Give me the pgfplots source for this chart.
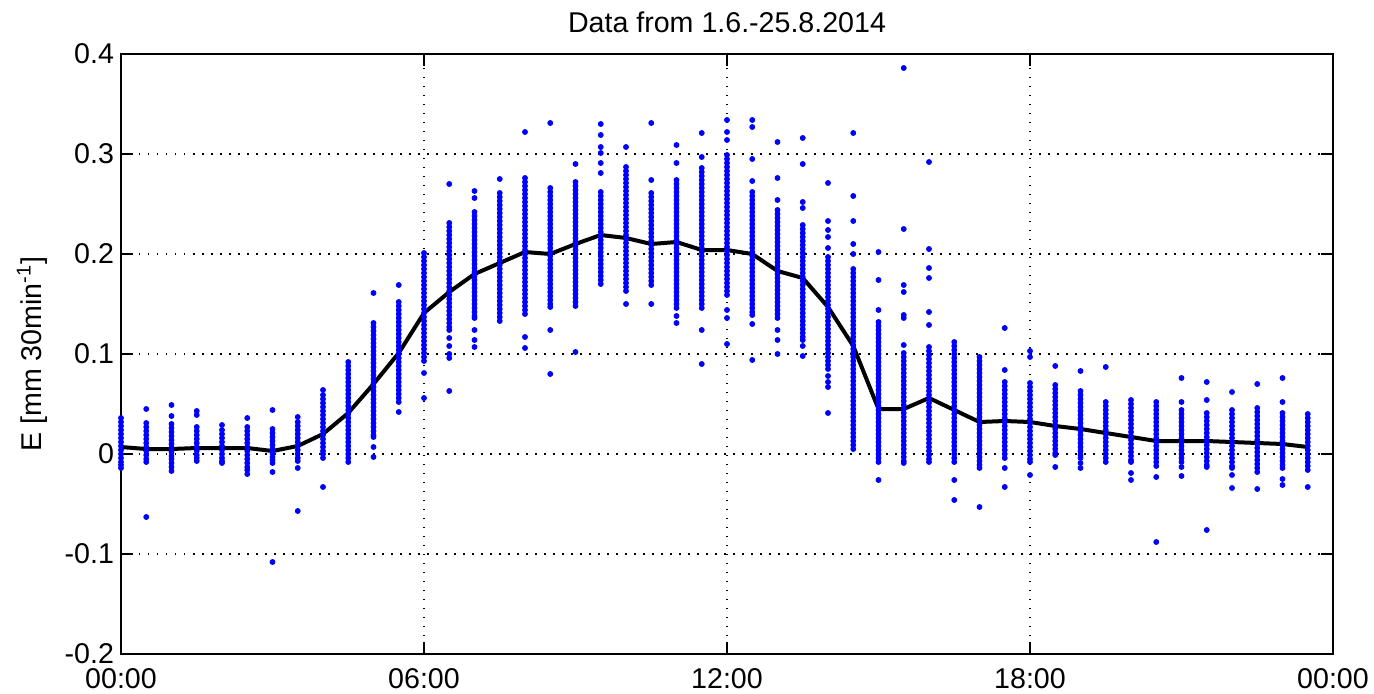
\documentclass[border=0pt]{standalone}
\usepackage{fontspec}
\setmainfont{Liberation Sans}
\usepackage{pgfplots}
\pgfplotsset{compat=1.18}
\begin{document}
\begin{tikzpicture}
\path[use as bounding box] (-60.5pt,-19.5pt) rectangle (626.5pt,327pt);
\begin{axis}[at={(0,0)}, anchor=south west, scale only axis, width=606pt, height=300pt,
  xmin=0, xmax=24, ymin=-0.2, ymax=0.4,
  xtick={0,6,12,18,24}, xticklabels={00:00,06:00,12:00,18:00,00:00},
  ytick={-0.2,-0.1,0,0.1,0.2,0.3,0.4}, yticklabels={-0.2,-0.1,0,0.1,0.2,0.3,0.4},
  tick align=inside, tick pos=both, major tick length=6pt,
  grid=major, major grid style={black, line width=0.75pt, dash pattern=on 0.75pt off 3.75pt},
  axis line style={line width=0.8pt}, every tick/.style={black, line width=0.8pt},
  tick label style={font=\fontsize{14.3pt}{17pt}\selectfont},
  xticklabel style={anchor=center, yshift=-12.5pt},
  title={Data from 1.6.-25.8.2014},
  every axis title shift=0pt,
  title style={font=\fontsize{14.3pt}{17pt}\selectfont, at={(axis description cs:0.5,1)}, anchor=center, yshift=16pt},
  ylabel={E [mm 30min\textsuperscript{-1}]},
  ylabel style={font=\fontsize{14.3pt}{17pt}\selectfont, at={(axis description cs:-0.0734,0.5)}, anchor=center},
  clip=false]
\addplot[only marks, mark=*, mark size=1.25pt, color=blue, mark options={draw=none, fill=blue}] coordinates {
(0,.036)(0,.032)(0,.028)(0,.024)(0,.020)(0,.016)(0,.012)(0,.008)(0,.004)(0,.000)(0,-.004)(0,-.008)(0,-.011)(0,-.014)
(0.5,.045)(0.5,.031)(0.5,.027)(0.5,.023)(0.5,.019)(0.5,.015)(0.5,.011)(0.5,.007)(0.5,.003)(0.5,-.001)(0.5,-.005)(0.5,-.008)(0.5,-.063)
(1,.049)(1,.038)(1,.030)(1,.026)(1,.022)(1,.018)(1,.014)(1,.010)(1,.006)(1,.002)(1,-.002)(1,-.005)(1,-.009)(1,-.013)(1,-.017)
(1.5,.043)(1.5,.039)(1.5,.027)(1.5,.023)(1.5,.019)(1.5,.015)(1.5,.011)(1.5,.007)(1.5,.003)(1.5,-.001)(1.5,-.004)(1.5,-.007)
(2,.029)(2,.024)(2,.020)(2,.016)(2,.012)(2,.008)(2,.004)(2,.000)(2,-.004)(2,-.007)(2,-.009)
(2.5,.036)(2.5,.027)(2.5,.023)(2.5,.019)(2.5,.015)(2.5,.011)(2.5,.007)(2.5,.003)(2.5,-.001)(2.5,-.005)(2.5,-.009)(2.5,-.013)(2.5,-.016)(2.5,-.020)
(3,.044)(3,.025)(3,.021)(3,.017)(3,.013)(3,.009)(3,.005)(3,.001)(3,-.003)(3,-.006)(3,-.009)(3,-.018)(3,-.108)
(3.5,.037)(3.5,.032)(3.5,.028)(3.5,.024)(3.5,.020)(3.5,.016)(3.5,.012)(3.5,.008)(3.5,.004)(3.5,.000)(3.5,-.004)(3.5,-.007)(3.5,-.014)(3.5,-.057)
(4,.064)(4,.059)(4,.055)(4,.051)(4,.047)(4,.043)(4,.039)(4,.035)(4,.031)(4,.027)(4,.023)(4,.019)(4,.015)(4,.011)(4,.007)(4,.003)(4,.000)(4,-.004)(4,-.033)
(4.5,.092)(4.5,.088)(4.5,.084)(4.5,.080)(4.5,.076)(4.5,.072)(4.5,.068)(4.5,.064)(4.5,.060)(4.5,.056)(4.5,.052)(4.5,.048)(4.5,.044)(4.5,.040)(4.5,.036)(4.5,.032)(4.5,.028)(4.5,.024)(4.5,.020)(4.5,.016)(4.5,.012)(4.5,.008)(4.5,.004)(4.5,.000)(4.5,-.004)(4.5,-.008)
(5,.161)(5,.131)(5,.127)(5,.123)(5,.119)(5,.115)(5,.111)(5,.107)(5,.103)(5,.099)(5,.095)(5,.091)(5,.087)(5,.083)(5,.079)(5,.075)(5,.071)(5,.067)(5,.063)(5,.059)(5,.055)(5,.051)(5,.047)(5,.043)(5,.039)(5,.035)(5,.031)(5,.027)(5,.023)(5,.019)(5,.017)(5,.007)(5,-.003)
(5.5,.169)(5.5,.152)(5.5,.148)(5.5,.144)(5.5,.140)(5.5,.136)(5.5,.132)(5.5,.128)(5.5,.124)(5.5,.120)(5.5,.116)(5.5,.112)(5.5,.108)(5.5,.104)(5.5,.100)(5.5,.096)(5.5,.092)(5.5,.088)(5.5,.084)(5.5,.080)(5.5,.076)(5.5,.072)(5.5,.068)(5.5,.064)(5.5,.060)(5.5,.056)(5.5,.052)(5.5,.042)
(6,.201)(6,.197)(6,.193)(6,.189)(6,.185)(6,.181)(6,.177)(6,.173)(6,.169)(6,.165)(6,.161)(6,.157)(6,.153)(6,.149)(6,.145)(6,.141)(6,.137)(6,.133)(6,.129)(6,.125)(6,.121)(6,.117)(6,.113)(6,.109)(6,.105)(6,.101)(6,.097)(6,.093)(6,.081)(6,.056)
(6.5,.270)(6.5,.231)(6.5,.227)(6.5,.223)(6.5,.219)(6.5,.215)(6.5,.211)(6.5,.207)(6.5,.203)(6.5,.199)(6.5,.195)(6.5,.191)(6.5,.187)(6.5,.183)(6.5,.179)(6.5,.175)(6.5,.171)(6.5,.167)(6.5,.163)(6.5,.159)(6.5,.155)(6.5,.151)(6.5,.147)(6.5,.143)(6.5,.139)(6.5,.135)(6.5,.131)(6.5,.127)(6.5,.124)(6.5,.116)(6.5,.108)(6.5,.100)(6.5,.096)(6.5,.063)
(7,.263)(7,.256)(7,.242)(7,.238)(7,.234)(7,.230)(7,.226)(7,.222)(7,.218)(7,.214)(7,.210)(7,.206)(7,.202)(7,.198)(7,.194)(7,.190)(7,.186)(7,.182)(7,.178)(7,.174)(7,.170)(7,.166)(7,.162)(7,.158)(7,.154)(7,.150)(7,.146)(7,.142)(7,.138)(7,.136)(7,.124)(7,.114)(7,.107)
(7.5,.275)(7.5,.261)(7.5,.257)(7.5,.253)(7.5,.249)(7.5,.245)(7.5,.241)(7.5,.237)(7.5,.233)(7.5,.229)(7.5,.225)(7.5,.221)(7.5,.217)(7.5,.213)(7.5,.209)(7.5,.205)(7.5,.201)(7.5,.197)(7.5,.193)(7.5,.189)(7.5,.185)(7.5,.181)(7.5,.177)(7.5,.173)(7.5,.169)(7.5,.165)(7.5,.161)(7.5,.157)(7.5,.153)(7.5,.149)(7.5,.145)(7.5,.141)(7.5,.137)(7.5,.133)
(8,.322)(8,.276)(8,.272)(8,.268)(8,.264)(8,.260)(8,.256)(8,.252)(8,.248)(8,.244)(8,.240)(8,.236)(8,.232)(8,.228)(8,.224)(8,.220)(8,.216)(8,.212)(8,.208)(8,.204)(8,.200)(8,.196)(8,.192)(8,.188)(8,.184)(8,.180)(8,.176)(8,.172)(8,.168)(8,.164)(8,.160)(8,.156)(8,.152)(8,.148)(8,.144)(8,.140)(8,.117)(8,.106)
(8.5,.331)(8.5,.266)(8.5,.262)(8.5,.258)(8.5,.254)(8.5,.250)(8.5,.246)(8.5,.242)(8.5,.238)(8.5,.234)(8.5,.230)(8.5,.226)(8.5,.222)(8.5,.218)(8.5,.214)(8.5,.210)(8.5,.206)(8.5,.202)(8.5,.198)(8.5,.194)(8.5,.190)(8.5,.186)(8.5,.182)(8.5,.178)(8.5,.174)(8.5,.170)(8.5,.166)(8.5,.162)(8.5,.158)(8.5,.154)(8.5,.150)(8.5,.147)(8.5,.124)(8.5,.080)
(9,.290)(9,.272)(9,.268)(9,.264)(9,.260)(9,.256)(9,.252)(9,.248)(9,.244)(9,.240)(9,.236)(9,.232)(9,.228)(9,.224)(9,.220)(9,.216)(9,.212)(9,.208)(9,.204)(9,.200)(9,.196)(9,.192)(9,.188)(9,.184)(9,.180)(9,.176)(9,.172)(9,.168)(9,.164)(9,.160)(9,.156)(9,.152)(9,.148)(9,.102)
(9.5,.330)(9.5,.319)(9.5,.307)(9.5,.301)(9.5,.291)(9.5,.281)(9.5,.262)(9.5,.258)(9.5,.254)(9.5,.250)(9.5,.246)(9.5,.242)(9.5,.238)(9.5,.234)(9.5,.230)(9.5,.226)(9.5,.222)(9.5,.218)(9.5,.214)(9.5,.210)(9.5,.206)(9.5,.202)(9.5,.198)(9.5,.194)(9.5,.190)(9.5,.186)(9.5,.182)(9.5,.178)(9.5,.174)(9.5,.170)
(10,.307)(10,.287)(10,.283)(10,.279)(10,.275)(10,.271)(10,.267)(10,.263)(10,.259)(10,.255)(10,.251)(10,.247)(10,.243)(10,.239)(10,.235)(10,.231)(10,.227)(10,.223)(10,.219)(10,.215)(10,.211)(10,.207)(10,.203)(10,.199)(10,.195)(10,.191)(10,.187)(10,.183)(10,.179)(10,.175)(10,.171)(10,.167)(10,.163)(10,.150)
(10.5,.331)(10.5,.274)(10.5,.261)(10.5,.257)(10.5,.253)(10.5,.249)(10.5,.245)(10.5,.241)(10.5,.237)(10.5,.233)(10.5,.229)(10.5,.225)(10.5,.221)(10.5,.217)(10.5,.213)(10.5,.209)(10.5,.205)(10.5,.201)(10.5,.197)(10.5,.193)(10.5,.189)(10.5,.185)(10.5,.181)(10.5,.177)(10.5,.173)(10.5,.169)(10.5,.150)
(11,.309)(11,.291)(11,.274)(11,.270)(11,.266)(11,.262)(11,.258)(11,.254)(11,.250)(11,.246)(11,.242)(11,.238)(11,.234)(11,.230)(11,.226)(11,.222)(11,.218)(11,.214)(11,.210)(11,.206)(11,.202)(11,.198)(11,.194)(11,.190)(11,.186)(11,.182)(11,.178)(11,.174)(11,.170)(11,.166)(11,.162)(11,.158)(11,.154)(11,.150)(11,.146)(11,.138)(11,.131)
(11.5,.321)(11.5,.297)(11.5,.286)(11.5,.282)(11.5,.278)(11.5,.274)(11.5,.270)(11.5,.266)(11.5,.262)(11.5,.258)(11.5,.254)(11.5,.250)(11.5,.246)(11.5,.242)(11.5,.238)(11.5,.234)(11.5,.230)(11.5,.226)(11.5,.222)(11.5,.218)(11.5,.214)(11.5,.210)(11.5,.206)(11.5,.202)(11.5,.198)(11.5,.194)(11.5,.190)(11.5,.186)(11.5,.182)(11.5,.178)(11.5,.174)(11.5,.170)(11.5,.166)(11.5,.162)(11.5,.158)(11.5,.154)(11.5,.150)(11.5,.146)(11.5,.124)(11.5,.090)
(12,.334)(12,.322)(12,.314)(12,.299)(12,.295)(12,.291)(12,.287)(12,.283)(12,.279)(12,.275)(12,.271)(12,.267)(12,.263)(12,.259)(12,.255)(12,.251)(12,.247)(12,.243)(12,.239)(12,.235)(12,.231)(12,.227)(12,.223)(12,.219)(12,.215)(12,.211)(12,.207)(12,.203)(12,.199)(12,.195)(12,.191)(12,.187)(12,.183)(12,.179)(12,.175)(12,.171)(12,.167)(12,.163)(12,.159)(12,.144)(12,.136)(12,.110)
(12.5,.334)(12.5,.327)(12.5,.295)(12.5,.273)(12.5,.262)(12.5,.258)(12.5,.254)(12.5,.250)(12.5,.246)(12.5,.242)(12.5,.238)(12.5,.234)(12.5,.230)(12.5,.226)(12.5,.222)(12.5,.218)(12.5,.214)(12.5,.210)(12.5,.206)(12.5,.202)(12.5,.198)(12.5,.194)(12.5,.190)(12.5,.186)(12.5,.182)(12.5,.178)(12.5,.174)(12.5,.170)(12.5,.166)(12.5,.162)(12.5,.158)(12.5,.154)(12.5,.150)(12.5,.146)(12.5,.142)(12.5,.139)(12.5,.130)(12.5,.094)
(13,.312)(13,.276)(13,.254)(13,.244)(13,.240)(13,.236)(13,.232)(13,.228)(13,.224)(13,.220)(13,.216)(13,.212)(13,.208)(13,.204)(13,.200)(13,.196)(13,.192)(13,.188)(13,.184)(13,.180)(13,.176)(13,.172)(13,.168)(13,.164)(13,.160)(13,.156)(13,.152)(13,.148)(13,.144)(13,.140)(13,.136)(13,.124)(13,.114)(13,.100)
(13.5,.316)(13.5,.290)(13.5,.252)(13.5,.246)(13.5,.229)(13.5,.225)(13.5,.221)(13.5,.217)(13.5,.213)(13.5,.209)(13.5,.205)(13.5,.201)(13.5,.197)(13.5,.193)(13.5,.189)(13.5,.185)(13.5,.181)(13.5,.177)(13.5,.173)(13.5,.169)(13.5,.165)(13.5,.161)(13.5,.157)(13.5,.153)(13.5,.149)(13.5,.145)(13.5,.141)(13.5,.137)(13.5,.133)(13.5,.129)(13.5,.125)(13.5,.121)(13.5,.117)(13.5,.114)(13.5,.108)(13.5,.098)
(14,.271)(14,.233)(14,.224)(14,.217)(14,.206)(14,.197)(14,.193)(14,.189)(14,.185)(14,.181)(14,.177)(14,.173)(14,.169)(14,.165)(14,.161)(14,.157)(14,.153)(14,.149)(14,.145)(14,.141)(14,.137)(14,.133)(14,.129)(14,.125)(14,.121)(14,.117)(14,.113)(14,.109)(14,.105)(14,.101)(14,.097)(14,.093)(14,.089)(14,.085)(14,.078)(14,.072)(14,.067)(14,.041)
(14.5,.321)(14.5,.258)(14.5,.233)(14.5,.210)(14.5,.200)(14.5,.185)(14.5,.181)(14.5,.177)(14.5,.173)(14.5,.169)(14.5,.165)(14.5,.161)(14.5,.157)(14.5,.153)(14.5,.149)(14.5,.145)(14.5,.141)(14.5,.137)(14.5,.133)(14.5,.129)(14.5,.125)(14.5,.121)(14.5,.117)(14.5,.113)(14.5,.109)(14.5,.105)(14.5,.101)(14.5,.097)(14.5,.093)(14.5,.089)(14.5,.085)(14.5,.081)(14.5,.077)(14.5,.073)(14.5,.069)(14.5,.065)(14.5,.061)(14.5,.057)(14.5,.053)(14.5,.049)(14.5,.045)(14.5,.041)(14.5,.037)(14.5,.033)(14.5,.029)(14.5,.025)(14.5,.021)(14.5,.017)(14.5,.013)(14.5,.009)(14.5,.005)
(15,.202)(15,.174)(15,.144)(15,.132)(15,.128)(15,.124)(15,.120)(15,.116)(15,.112)(15,.108)(15,.104)(15,.100)(15,.096)(15,.092)(15,.088)(15,.084)(15,.080)(15,.076)(15,.072)(15,.068)(15,.064)(15,.060)(15,.056)(15,.052)(15,.048)(15,.044)(15,.040)(15,.036)(15,.032)(15,.028)(15,.024)(15,.020)(15,.016)(15,.012)(15,.008)(15,.004)(15,.000)(15,-.004)(15,-.008)(15,-.026)
(15.5,.386)(15.5,.225)(15.5,.169)(15.5,.162)(15.5,.139)(15.5,.136)(15.5,.109)(15.5,.101)(15.5,.097)(15.5,.093)(15.5,.089)(15.5,.085)(15.5,.081)(15.5,.077)(15.5,.073)(15.5,.069)(15.5,.065)(15.5,.061)(15.5,.057)(15.5,.053)(15.5,.049)(15.5,.045)(15.5,.041)(15.5,.037)(15.5,.033)(15.5,.029)(15.5,.025)(15.5,.021)(15.5,.017)(15.5,.013)(15.5,.009)(15.5,.005)(15.5,.001)(15.5,-.003)(15.5,-.007)(15.5,-.009)
(16,.292)(16,.205)(16,.186)(16,.176)(16,.142)(16,.129)(16,.107)(16,.103)(16,.099)(16,.095)(16,.091)(16,.087)(16,.083)(16,.079)(16,.075)(16,.071)(16,.067)(16,.063)(16,.059)(16,.055)(16,.051)(16,.047)(16,.043)(16,.039)(16,.035)(16,.031)(16,.027)(16,.023)(16,.019)(16,.015)(16,.011)(16,.007)(16,.003)(16,-.001)(16,-.005)(16,-.008)
(16.5,.112)(16.5,.108)(16.5,.104)(16.5,.100)(16.5,.096)(16.5,.092)(16.5,.088)(16.5,.084)(16.5,.080)(16.5,.076)(16.5,.072)(16.5,.068)(16.5,.064)(16.5,.060)(16.5,.056)(16.5,.052)(16.5,.048)(16.5,.044)(16.5,.040)(16.5,.036)(16.5,.032)(16.5,.028)(16.5,.024)(16.5,.020)(16.5,.016)(16.5,.012)(16.5,.008)(16.5,.004)(16.5,.000)(16.5,-.004)(16.5,-.008)(16.5,-.026)(16.5,-.046)
(17,.097)(17,.093)(17,.089)(17,.085)(17,.081)(17,.077)(17,.073)(17,.069)(17,.065)(17,.061)(17,.057)(17,.053)(17,.049)(17,.045)(17,.041)(17,.037)(17,.033)(17,.029)(17,.025)(17,.021)(17,.017)(17,.013)(17,.009)(17,.005)(17,.001)(17,-.003)(17,-.007)(17,-.011)(17,-.014)(17,-.053)
(17.5,.126)(17.5,.084)(17.5,.072)(17.5,.068)(17.5,.064)(17.5,.060)(17.5,.056)(17.5,.052)(17.5,.048)(17.5,.044)(17.5,.040)(17.5,.036)(17.5,.032)(17.5,.028)(17.5,.024)(17.5,.020)(17.5,.016)(17.5,.012)(17.5,.008)(17.5,.004)(17.5,.000)(17.5,-.004)(17.5,-.014)(17.5,-.033)
(18,.103)(18,.097)(18,.071)(18,.067)(18,.063)(18,.059)(18,.055)(18,.051)(18,.047)(18,.043)(18,.039)(18,.035)(18,.031)(18,.027)(18,.023)(18,.019)(18,.015)(18,.011)(18,.007)(18,.003)(18,-.001)(18,-.005)(18,-.008)(18,-.021)
(18.5,.088)(18.5,.069)(18.5,.065)(18.5,.061)(18.5,.057)(18.5,.053)(18.5,.049)(18.5,.045)(18.5,.041)(18.5,.037)(18.5,.033)(18.5,.029)(18.5,.025)(18.5,.021)(18.5,.017)(18.5,.013)(18.5,.009)(18.5,.005)(18.5,.001)(18.5,-.001)(18.5,-.013)
(19,.083)(19,.063)(19,.059)(19,.055)(19,.051)(19,.047)(19,.043)(19,.039)(19,.035)(19,.031)(19,.027)(19,.023)(19,.019)(19,.015)(19,.011)(19,.007)(19,.003)(19,-.001)(19,-.004)(19,-.009)(19,-.014)
(19.5,.087)(19.5,.052)(19.5,.048)(19.5,.044)(19.5,.040)(19.5,.036)(19.5,.032)(19.5,.028)(19.5,.024)(19.5,.020)(19.5,.016)(19.5,.012)(19.5,.008)(19.5,.004)(19.5,.000)(19.5,-.004)(19.5,-.008)
(20,.054)(20,.050)(20,.046)(20,.042)(20,.038)(20,.034)(20,.030)(20,.026)(20,.022)(20,.018)(20,.014)(20,.010)(20,.006)(20,.002)(20,-.002)(20,-.006)(20,-.008)(20,-.019)(20,-.026)
(20.5,.052)(20.5,.048)(20.5,.044)(20.5,.040)(20.5,.036)(20.5,.032)(20.5,.028)(20.5,.024)(20.5,.020)(20.5,.016)(20.5,.012)(20.5,.008)(20.5,.004)(20.5,.000)(20.5,-.004)(20.5,-.008)(20.5,-.012)(20.5,-.023)(20.5,-.088)
(21,.076)(21,.052)(21,.044)(21,.040)(21,.036)(21,.032)(21,.028)(21,.024)(21,.020)(21,.016)(21,.012)(21,.008)(21,.004)(21,.000)(21,-.004)(21,-.008)(21,-.013)(21,-.022)
(21.5,.072)(21.5,.054)(21.5,.041)(21.5,.037)(21.5,.033)(21.5,.029)(21.5,.025)(21.5,.021)(21.5,.017)(21.5,.013)(21.5,.009)(21.5,.005)(21.5,.001)(21.5,-.003)(21.5,-.007)(21.5,-.011)(21.5,-.013)(21.5,-.076)
(22,.062)(22,.044)(22,.040)(22,.036)(22,.032)(22,.028)(22,.024)(22,.020)(22,.016)(22,.012)(22,.008)(22,.004)(22,.000)(22,-.004)(22,-.008)(22,-.012)(22,-.014)(22,-.021)(22,-.034)
(22.5,.070)(22.5,.046)(22.5,.042)(22.5,.038)(22.5,.034)(22.5,.030)(22.5,.026)(22.5,.022)(22.5,.018)(22.5,.014)(22.5,.010)(22.5,.006)(22.5,.002)(22.5,-.002)(22.5,-.006)(22.5,-.010)(22.5,-.014)(22.5,-.018)(22.5,-.035)
(23,.076)(23,.052)(23,.041)(23,.037)(23,.033)(23,.029)(23,.025)(23,.021)(23,.017)(23,.013)(23,.009)(23,.005)(23,.001)(23,-.003)(23,-.007)(23,-.011)(23,-.014)(23,-.025)(23,-.031)
(23.5,.040)(23.5,.036)(23.5,.032)(23.5,.028)(23.5,.024)(23.5,.020)(23.5,.016)(23.5,.012)(23.5,.008)(23.5,.004)(23.5,.000)(23.5,-.004)(23.5,-.008)(23.5,-.012)(23.5,-.016)(23.5,-.033)
};
\addplot[black, line width=2pt, no marks] coordinates {
(0,.007)(0.5,.005)(1,.005)(1.5,.006)(2,.006)(2.5,.006)(3,.003)(3.5,.008)(4,.020)(4.5,.041)(5,.070)(5.5,.101)(6,.141)(6.5,.162)(7,.180)(7.5,.191)(8,.202)(8.5,.200)(9,.210)(9.5,.219)(10,.216)(10.5,.210)(11,.212)(11.5,.204)(12,.204)(12.5,.200)(13,.183)(13.5,.176)(14,.147)(14.5,.108)(15,.045)(15.5,.045)(16,.056)(16.5,.044)(17,.032)(17.5,.033)(18,.032)(18.5,.028)(19,.025)(19.5,.021)(20,.017)(20.5,.013)(21,.013)(21.5,.013)(22,.012)(22.5,.011)(23,.010)(23.5,.007)
};
\end{axis}
\end{tikzpicture}
\end{document}
